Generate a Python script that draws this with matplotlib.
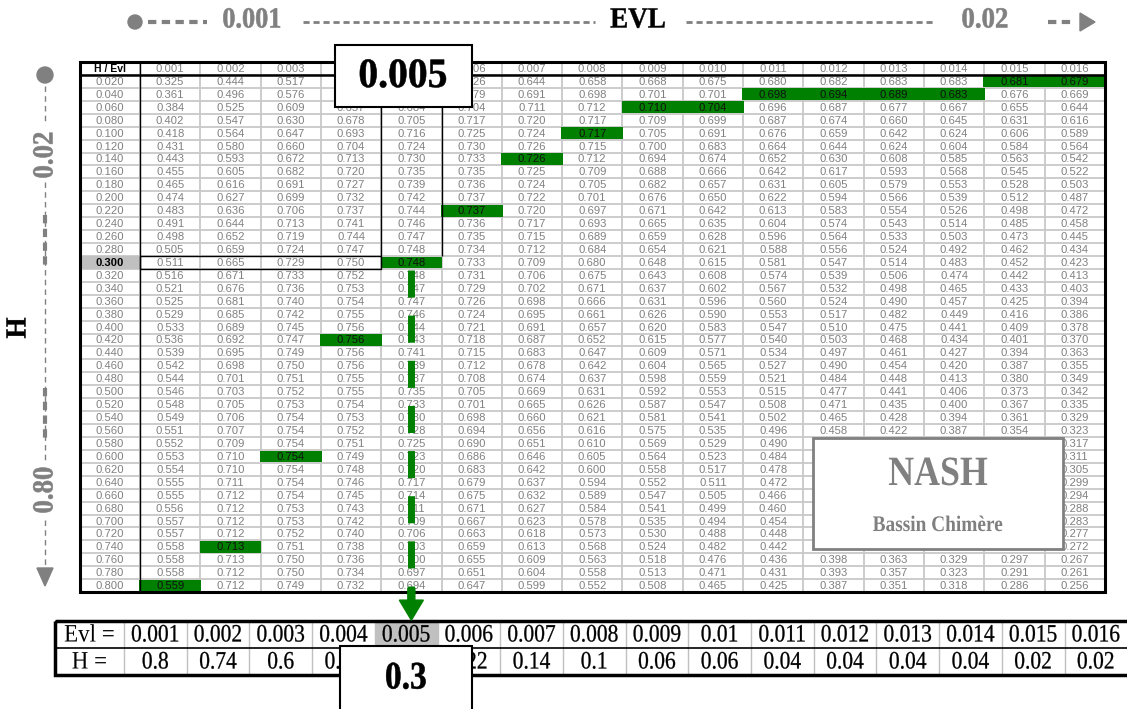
import numpy as np
import matplotlib.pyplot as plt
import matplotlib.patheffects as pe
from matplotlib.patches import Rectangle, Circle, FancyArrow, Polygon
from matplotlib.transforms import Affine2D

# ---- data : NASH efficiency for each (H, Evl) pair ----
evl = [0.001, 0.002, 0.003, 0.004, 0.005, 0.006, 0.007, 0.008,
       0.009, 0.010, 0.011, 0.012, 0.013, 0.014, 0.015, 0.016]
h_vals = [0.02, 0.04, 0.06, 0.08, 0.10, 0.12, 0.14, 0.16, 0.18, 0.20,
          0.22, 0.24, 0.26, 0.28, 0.30, 0.32, 0.34, 0.36, 0.38, 0.40,
          0.42, 0.44, 0.46, 0.48, 0.50, 0.52, 0.54, 0.56, 0.58, 0.60,
          0.62, 0.64, 0.66, 0.68, 0.70, 0.72, 0.74, 0.76, 0.78, 0.80]

v001 = [0.325, 0.361, 0.384, 0.402, 0.418, 0.431, 0.443, 0.455, 0.465, 0.474, 0.483, 0.491, 0.498, 0.505, 0.511, 0.516, 0.521, 0.525, 0.529, 0.533,
        0.536, 0.539, 0.542, 0.544, 0.546, 0.548, 0.549, 0.551, 0.552, 0.553, 0.554, 0.555, 0.555, 0.556, 0.557, 0.557, 0.558, 0.558, 0.558, 0.559]
v002 = [0.444, 0.496, 0.525, 0.547, 0.564, 0.580, 0.593, 0.605, 0.616, 0.627, 0.636, 0.644, 0.652, 0.659, 0.665, 0.671, 0.676, 0.681, 0.685, 0.689,
        0.692, 0.695, 0.698, 0.701, 0.703, 0.705, 0.706, 0.707, 0.709, 0.710, 0.710, 0.711, 0.712, 0.712, 0.712, 0.712, 0.713, 0.713, 0.712, 0.712]
v003 = [0.517, 0.576, 0.609, 0.630, 0.647, 0.660, 0.672, 0.682, 0.691, 0.699, 0.706, 0.713, 0.719, 0.724, 0.729, 0.733, 0.736, 0.740, 0.742, 0.745,
        0.747, 0.749, 0.750, 0.751, 0.752, 0.753, 0.754, 0.754, 0.754, 0.754, 0.754, 0.754, 0.754, 0.753, 0.753, 0.752, 0.751, 0.750, 0.750, 0.749]
v004 = [0.566, 0.628, 0.657, 0.678, 0.693, 0.704, 0.713, 0.720, 0.727, 0.732, 0.737, 0.741, 0.744, 0.747, 0.750, 0.752, 0.753, 0.754, 0.755, 0.756,
        0.756, 0.756, 0.756, 0.755, 0.755, 0.754, 0.753, 0.752, 0.751, 0.749, 0.748, 0.746, 0.745, 0.743, 0.742, 0.740, 0.738, 0.736, 0.734, 0.732]
v005 = [0.597, 0.655, 0.684, 0.705, 0.716, 0.724, 0.730, 0.735, 0.739, 0.742, 0.744, 0.746, 0.747, 0.748, 0.748, 0.748, 0.747, 0.747, 0.746, 0.744,
        0.743, 0.741, 0.739, 0.737, 0.735, 0.733, 0.730, 0.728, 0.725, 0.723, 0.720, 0.717, 0.714, 0.711, 0.709, 0.706, 0.703, 0.700, 0.697, 0.694]
v006 = [0.626, 0.679, 0.704, 0.717, 0.725, 0.730, 0.733, 0.735, 0.736, 0.737, 0.737, 0.736, 0.735, 0.734, 0.733, 0.731, 0.729, 0.726, 0.724, 0.721,
        0.718, 0.715, 0.712, 0.708, 0.705, 0.701, 0.698, 0.694, 0.690, 0.686, 0.683, 0.679, 0.675, 0.671, 0.667, 0.663, 0.659, 0.655, 0.651, 0.647]
v007 = [0.644, 0.691, 0.711, 0.720, 0.724, 0.726, 0.726, 0.725, 0.724, 0.722, 0.720, 0.717, 0.715, 0.712, 0.709, 0.706, 0.702, 0.698, 0.695, 0.691,
        0.687, 0.683, 0.678, 0.674, 0.669, 0.665, 0.660, 0.656, 0.651, 0.646, 0.642, 0.637, 0.632, 0.627, 0.623, 0.618, 0.613, 0.609, 0.604, 0.599]
v008 = [0.658, 0.698, 0.712, 0.717, 0.717, 0.715, 0.712, 0.709, 0.705, 0.701, 0.697, 0.693, 0.689, 0.684, 0.680, 0.675, 0.671, 0.666, 0.661, 0.657,
        0.652, 0.647, 0.642, 0.637, 0.631, 0.626, 0.621, 0.616, 0.610, 0.605, 0.600, 0.594, 0.589, 0.584, 0.578, 0.573, 0.568, 0.563, 0.558, 0.552]
v009 = [0.668, 0.701, 0.710, 0.709, 0.705, 0.700, 0.694, 0.688, 0.682, 0.676, 0.671, 0.665, 0.659, 0.654, 0.648, 0.643, 0.637, 0.631, 0.626, 0.620,
        0.615, 0.609, 0.604, 0.598, 0.592, 0.587, 0.581, 0.575, 0.569, 0.564, 0.558, 0.552, 0.547, 0.541, 0.535, 0.530, 0.524, 0.518, 0.513, 0.508]
v010 = [0.675, 0.701, 0.704, 0.699, 0.691, 0.683, 0.674, 0.666, 0.657, 0.650, 0.642, 0.635, 0.628, 0.621, 0.615, 0.608, 0.602, 0.596, 0.590, 0.583,
        0.577, 0.571, 0.565, 0.559, 0.553, 0.547, 0.541, 0.535, 0.529, 0.523, 0.517, 0.511, 0.505, 0.499, 0.494, 0.488, 0.482, 0.476, 0.471, 0.465]
v011 = [0.680, 0.698, 0.696, 0.687, 0.676, 0.664, 0.652, 0.642, 0.631, 0.622, 0.613, 0.604, 0.596, 0.588, 0.581, 0.574, 0.567, 0.560, 0.553, 0.547,
        0.540, 0.534, 0.527, 0.521, 0.515, 0.508, 0.502, 0.496, 0.490, 0.484, 0.478, 0.472, 0.466, 0.460, 0.454, 0.448, 0.442, 0.436, 0.431, 0.425]
v012 = [0.682, 0.694, 0.687, 0.674, 0.659, 0.644, 0.630, 0.617, 0.605, 0.594, 0.583, 0.574, 0.564, 0.556, 0.547, 0.539, 0.532, 0.524, 0.517, 0.510,
        0.503, 0.497, 0.490, 0.484, 0.477, 0.471, 0.465, 0.458, 0.452, 0.446, 0.440, 0.434, 0.428, 0.422, 0.416, 0.410, 0.404, 0.398, 0.393, 0.387]
v013 = [0.683, 0.689, 0.677, 0.660, 0.642, 0.624, 0.608, 0.593, 0.579, 0.566, 0.554, 0.543, 0.533, 0.524, 0.514, 0.506, 0.498, 0.490, 0.482, 0.475,
        0.468, 0.461, 0.454, 0.448, 0.441, 0.435, 0.428, 0.422, 0.416, 0.410, 0.404, 0.398, 0.392, 0.386, 0.380, 0.375, 0.369, 0.363, 0.357, 0.351]
v014 = [0.683, 0.683, 0.667, 0.645, 0.624, 0.604, 0.585, 0.568, 0.553, 0.539, 0.526, 0.514, 0.503, 0.492, 0.483, 0.474, 0.465, 0.457, 0.449, 0.441,
        0.434, 0.427, 0.420, 0.413, 0.406, 0.400, 0.394, 0.387, 0.381, 0.375, 0.369, 0.364, 0.358, 0.352, 0.346, 0.341, 0.335, 0.329, 0.323, 0.318]
v015 = [0.681, 0.676, 0.655, 0.631, 0.606, 0.584, 0.563, 0.545, 0.528, 0.512, 0.498, 0.485, 0.473, 0.462, 0.452, 0.442, 0.433, 0.425, 0.416, 0.409,
        0.401, 0.394, 0.387, 0.380, 0.373, 0.367, 0.361, 0.354, 0.348, 0.342, 0.336, 0.330, 0.324, 0.319, 0.313, 0.308, 0.302, 0.297, 0.291, 0.286]
v016 = [0.679, 0.669, 0.644, 0.616, 0.589, 0.564, 0.542, 0.522, 0.503, 0.487, 0.472, 0.458, 0.445, 0.434, 0.423, 0.413, 0.403, 0.394, 0.386, 0.378,
        0.370, 0.363, 0.355, 0.349, 0.342, 0.335, 0.329, 0.323, 0.317, 0.311, 0.305, 0.299, 0.294, 0.288, 0.283, 0.277, 0.272, 0.267, 0.261, 0.256]
columns = [v001, v002, v003, v004, v005, v006, v007, v008,
           v009, v010, v011, v012, v013, v014, v015, v016]

# best H for every Evl (green cells + summary table)
best_h = [0.8, 0.74, 0.6, 0.42, 0.3, 0.22, 0.14, 0.1,
          0.06, 0.06, 0.04, 0.04, 0.04, 0.04, 0.02, 0.02]
sel_evl, sel_h = 0.005, 0.3

GREEN = '#008000'
GREY = '#808080'
GRID = '#c8c8c8'
SERIF = 'Liberation Serif'
SANS = 'Liberation Sans'


class Squeeze(pe.AbstractPathEffect):
	"""Draws the text squeezed horizontally around its own centre,
	optionally with a thin outline to make it heavier"""

	def __init__(self, sx, lw=0):
		super().__init__()
		self.sx = sx
		self.lw = lw

	def draw_path(self, renderer, gc, tpath, affine, rgbFace=None):
		v = tpath.vertices
		cx = 0.5 * (v[:, 0].min() + v[:, 0].max())
		sq = Affine2D().translate(-cx, 0).scale(self.sx, 1).translate(cx, 0)
		gc0 = renderer.new_gc()
		gc0.copy_properties(gc)
		if self.lw > 0:
			gc0.set_linewidth(self.lw)
			gc0.set_foreground(rgbFace)
		renderer.draw_path(gc0, tpath, sq + affine, rgbFace)
		gc0.restore()


def serif(ax, x, y, s, size, color='black', sx=0.88, rot=0, weight='bold', lw=0, z=8):
	return ax.text(x, y, s, fontsize=size, color=color, family=SERIF, weight=weight,
	               ha='center', va='center', rotation=rot, zorder=z,
	               path_effects=[Squeeze(sx, lw)])


fig = plt.figure(figsize=(11.27, 7.09), dpi=100)
ax = fig.add_axes([0, 0, 1, 1])
ax.set_xlim(0, 1127)
ax.set_ylim(709, 0)
ax.axis('off')

# ---- main table ----
x0, y0 = 80, 62
w0, cw, rh = 60, 60.3, 12.93
n_col, n_row = len(evl), len(h_vals)
xs = x0 + w0 + cw * np.arange(n_col + 1)
ys = y0 + rh * np.arange(n_row + 2)
xc = 0.5 * (xs[:-1] + xs[1:])
yc = 0.5 * (ys[:-1] + ys[1:]) + 0.5

sel_c = int(np.argmin(np.abs(np.array(evl) - sel_evl)))
sel_r = int(np.argmin(np.abs(np.array(h_vals) - sel_h)))

ax.hlines(ys[1:-1], x0, xs[-1], color=GRID, lw=1.3, zorder=1)
ax.vlines(xs[:-1], y0, ys[-1], color=GRID, lw=1.3, zorder=1)

CELL = 8.1
ax.text(x0 + w0 / 2, yc[0], 'H / Evl', family=SANS, fontsize=7.5, weight='bold',
        ha='center', va='center', zorder=3)
for j, e in enumerate(evl):
	ax.text(xc[j], yc[0], '%.3f' % e, family=SANS, fontsize=CELL, color=GREY,
	        ha='center', va='center', zorder=3)

for i, h in enumerate(h_vals):
	if i == sel_r:
		ax.add_patch(Rectangle((x0, ys[i + 1]), w0, rh, fc='#c0c0c0', ec='none', zorder=2))
		ax.text(x0 + w0 / 2, yc[i + 1], '%.3f' % h, family=SANS, fontsize=CELL,
		        weight='bold', ha='center', va='center', zorder=3)
	else:
		ax.text(x0 + w0 / 2, yc[i + 1], '%.3f' % h, family=SANS, fontsize=CELL,
		        color=GREY, ha='center', va='center', zorder=3)

for j, col in enumerate(columns):
	for i, v in enumerate(col):
		best = abs(h_vals[i] - best_h[j]) < 1e-6
		if best:
			ax.add_patch(Rectangle((xs[j] - 0.7, ys[i + 1] + 0.6), cw + 1.4, rh - 1.2,
			                       fc=GREEN, ec='none', zorder=2))
		ax.text(xc[j], yc[i + 1], '%.3f' % v, family=SANS, fontsize=CELL,
		        color='#111111' if best else GREY, ha='center', va='center', zorder=3)

# borders
ax.add_patch(Rectangle((x0, y0), xs[-1] - x0, ys[-1] - y0, fill=False, ec='black', lw=2.2, zorder=4))
ax.hlines(ys[1], x0, xs[-1], color='black', lw=1.8, zorder=4)
ax.vlines(xs[0], y0, ys[-1], color='black', lw=1, zorder=4)

# selected row / column outline
ax.add_patch(Rectangle((xs[0], ys[sel_r + 1]), xs[sel_c] - xs[0], rh, fill=False,
                       ec='black', lw=1, zorder=4))
ax.vlines([xs[sel_c], xs[sel_c + 1]], y0, ys[sel_r + 1], color='black', lw=1, zorder=4)

# green dashed bar and arrow down to the summary table
ax.plot([xc[sel_c], xc[sel_c]], [ys[sel_r + 2] + 1, ys[-1]], color=GREEN, lw=5,
        ls=(0, (3.9, 2.6)), zorder=5)
ax.add_patch(FancyArrow(xc[sel_c], ys[-1] - 4, 0, 32, width=7, head_width=24,
                        head_length=20, length_includes_head=True, color=GREEN, zorder=5))

# ---- top axis decoration ----
ax.add_patch(Circle((135, 22), 7, color=GREY, zorder=3))
ax.plot([148, 207], [22, 22], color=GREY, lw=3, ls=(0, (2, 1.3)))
ax.plot([303, 595], [22, 22], color=GREY, lw=2, ls=(0, (2.2, 1.4)))
ax.plot([686, 935], [22, 22], color=GREY, lw=2, ls=(0, (2.2, 1.4)))
ax.plot([1048, 1075], [22, 22], color=GREY, lw=3, ls=(0, (2, 1.3)))
ax.add_patch(Polygon([(1080, 13), (1080, 31), (1095, 22)], color=GREY))
serif(ax, 252, 20, '0.001', 21, GREY, sx=0.9, lw=0.4)
serif(ax, 638, 20, 'EVL', 21, 'black', sx=0.93, lw=0.3)
serif(ax, 985, 20, '0.02', 21, GREY, sx=0.92, lw=0.4)

# ---- left axis decoration ----
ax.add_patch(Circle((45, 75), 8, color=GREY, zorder=3))
ax.plot([45, 45], [86, 125], color=GREY, lw=1, ls=(0, (4, 3)))
ax.plot([45, 45], [182, 460], color=GREY, lw=1, ls=(0, (4, 3)))
ax.plot([45, 45], [520, 568], color=GREY, lw=1, ls=(0, (4, 3)))
ax.plot([45, 45], [215, 268], color=GREY, lw=3, ls=(0, (2, 1.3)))
ax.plot([45, 45], [388, 440], color=GREY, lw=3, ls=(0, (2, 1.3)))
ax.add_patch(Polygon([(37, 568), (53, 568), (45, 586)], color=GREY))
serif(ax, 45, 155, '0.02', 21, GREY, sx=0.92, rot=90, lw=0.4)
serif(ax, 18, 328, 'H', 21, 'black', sx=0.93, rot=90, lw=0.3)
serif(ax, 45, 490, '0.80', 21, GREY, sx=0.92, rot=90, lw=0.4)

# ---- summary table ----
bx0, by0 = 55, 621
bw0, bcw, brh = 69, 62.7, 27
bxs = bx0 + bw0 + bcw * np.arange(n_col + 1)
bxc = 0.5 * (bxs[:-1] + bxs[1:])
ax.add_patch(Rectangle((bxs[sel_c], by0), bcw, brh, fc='#c0c0c0', ec='none', zorder=1))
ax.vlines(bxs[:-1], by0, by0 + 2 * brh, color='#c0c0c0', lw=1, zorder=2)
ax.hlines(by0 + brh, bx0, 1127, color='black', lw=1.2, zorder=2)
ax.add_patch(Rectangle((bx0, by0), 1140 - bx0, 2 * brh, fill=False, ec='black', lw=2.5, zorder=3))
serif(ax, bx0 + bw0 / 2, by0 + brh / 2 + 1, 'Evl =', 18, weight='normal', sx=0.92, z=4)
serif(ax, bx0 + bw0 / 2, by0 + 1.5 * brh + 1, 'H =', 18, weight='normal', sx=0.92, z=4)
for j in range(n_col):
	serif(ax, bxc[j], by0 + brh / 2 + 1, '%g' % evl[j], 18, weight='normal', sx=0.86, lw=0.2, z=4)
	serif(ax, bxc[j], by0 + 1.5 * brh + 1, '%g' % best_h[j], 18, weight='normal', sx=0.86, lw=0.2, z=4)

# ---- call-out boxes ----
ax.add_patch(Rectangle((335, 45), 137, 62, fc='white', ec='black', lw=1.5, zorder=6))
serif(ax, 403, 77, '%g' % sel_evl, 30, sx=0.95, lw=0.4)
ax.add_patch(Rectangle((340, 646), 132, 80, fc='white', ec='black', lw=1.5, zorder=6))
serif(ax, 406, 679, '%g' % sel_h, 28, sx=0.86, lw=0.4)

ax.add_patch(Rectangle((813, 438), 250, 111, fc='white', ec=GREY, lw=2, zorder=6))
serif(ax, 938, 475, 'NASH', 30, GREY, sx=0.86)
serif(ax, 938, 526, 'Bassin Chimère', 16, GREY, sx=0.87)

fig.savefig('out.png', dpi=100)
